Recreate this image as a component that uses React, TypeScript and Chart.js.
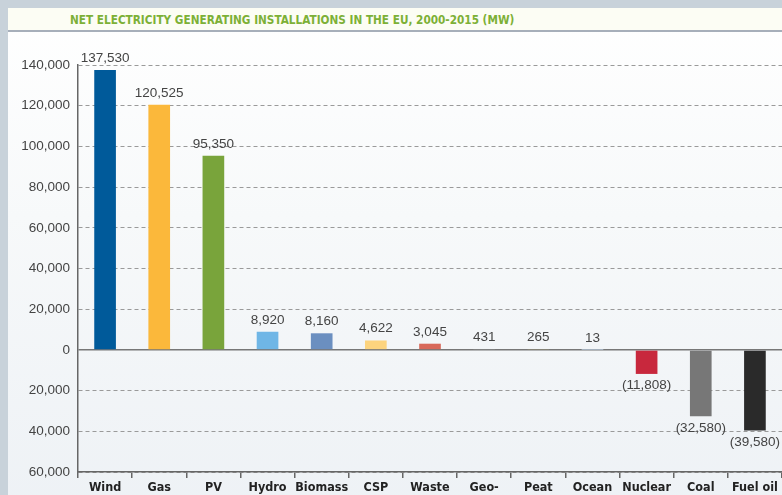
import React, { useEffect, useRef } from "react";
import { Chart, registerables } from "chart.js";

Chart.register(...registerables);

const title = "NET ELECTRICITY GENERATING INSTALLATIONS IN THE EU, 2000-2015 (MW)";
const categories: (string | string[])[] = [
  "Wind", "Gas", "PV", "Hydro", "Biomass", "CSP", "Waste",
  ["Geo-", "thermal"], "Peat", "Ocean", "Nuclear", "Coal", "Fuel oil",
];
const values = [137530, 120525, 95350, 8920, 8160, 4622, 3045, 431, 265, 13, -11808, -32580, -39580];
const barColors = [
  "#005a9a", "#fbb83b", "#79a43b", "#6fb6e6", "#6b8fc0", "#fdd47e", "#d8695a",
  "#b9bcc0", "#b8ad72", "#b4c6d8", "#c8283d", "#777777", "#2a2a2a",
];
const yMin = -60000;
const yMax = 140000;
const yStep = 20000;

const fmt = (v: number) => Math.abs(v).toLocaleString("en-US");
const labelText = (v: number) => (v < 0 ? `(${fmt(v)})` : fmt(v));

const NUM_FONT = "'Liberation Sans', Arial, sans-serif";
const NARROW_FONT = "'DejaVu Sans Condensed', 'Liberation Sans Narrow', sans-serif";

const valueLabels = {
  id: "valueLabels",
  afterDatasetsDraw(chart: any) {
    const ctx = chart.ctx;
    const meta = chart.getDatasetMeta(0);
    ctx.save();
    ctx.font = `13.5px ${NUM_FONT}`;
    ctx.fillStyle = "#444";
    ctx.textAlign = "center";
    meta.data.forEach((el: any, i: number) => {
      const v = values[i];
      if (v >= 0) {
        ctx.textBaseline = "bottom";
        ctx.fillText(labelText(v), el.x, el.y - 5);
      } else {
        ctx.textBaseline = "top";
        ctx.fillText(labelText(v), el.x, el.y + 5);
      }
    });
    ctx.restore();
  },
};

export default function App() {
  const ref = useRef<HTMLCanvasElement | null>(null);

  useEffect(() => {
    document.documentElement.style.overflow = "hidden";
    document.documentElement.style.background = "#c8d2da";
    document.body.style.background = "#c8d2da";
    document.body.style.margin = "8px 0 0 8px";
    if (!ref.current) return;
    const chart = new Chart(ref.current, {
      type: "bar",
      data: {
        labels: categories,
        datasets: [
          {
            data: values,
            backgroundColor: barColors,
            borderWidth: 0,
            barPercentage: 0.8,
            categoryPercentage: 0.5,
          },
        ],
      },
      options: {
        animation: false,
        responsive: false,
        maintainAspectRatio: false,
        layout: { padding: { top: 33, left: 0, right: 0, bottom: 0 } },
        plugins: {
          legend: { display: false },
          tooltip: { enabled: false },
          title: { display: false },
        },
        scales: {
          x: {
            offset: true,
            grid: {
              offset: true,
              drawOnChartArea: false,
              drawTicks: true,
              tickLength: 6,
              color: "#666",
              lineWidth: 1.5,
            },
            border: { display: true, color: "#666", width: 1.5 },
            ticks: {
              color: "#222",
              padding: 2,
              maxRotation: 0,
              autoSkip: false,
              font: { family: NARROW_FONT, size: 12.5, weight: "bold" },
            },
            afterFit: (s: any) => {
              s.height = 40;
            },
          },
          y: {
            min: yMin,
            max: yMax,
            grid: {
              drawTicks: false,
              color: (c: any) => (c.tick && c.tick.value === 0 ? "#777" : "#9a9a9a"),
              lineWidth: (c: any) => (c.tick && c.tick.value === 0 ? 1.5 : 1),
            },
            border: {
              display: true,
              color: "#666",
              width: 1.5,
              dash: (c: any) => (c.tick && c.tick.value === 0 ? [] : [4, 3]),
            } as any,
            ticks: {
              stepSize: yStep,
              padding: 8,
              color: "#444",
              font: { family: NUM_FONT, size: 13.5 },
              callback: (v: any) => fmt(Number(v)),
            },
            afterFit: (s: any) => {
              s.width = 70;
            },
          },
        },
      },
      plugins: [valueLabels],
    });
    return () => chart.destroy();
  }, []);

  return (
    <div
      style={{
        width: 774,
        height: 520,
        background: "linear-gradient(#ffffff 0%, #f7f9fa 40%, #edf1f5 100%)",
        position: "relative",
        overflow: "hidden",
      }}
    >
      <div
        style={{
          height: 22,
          background: "#fcfdf4",
          borderBottom: "2px solid #a7afba",
          boxSizing: "content-box",
          position: "relative",
        }}
      >
        <span
          style={{
            position: "absolute",
            left: 62,
            top: 5,
            color: "#7cb036",
            fontFamily: NARROW_FONT,
            fontWeight: "bold",
            fontSize: 11.7,
            whiteSpace: "nowrap",
            letterSpacing: 0,
          }}
        >
          {title}
        </span>
      </div>
      <canvas ref={ref} width={774} height={480} style={{ display: "block" }} />
    </div>
  );
}
